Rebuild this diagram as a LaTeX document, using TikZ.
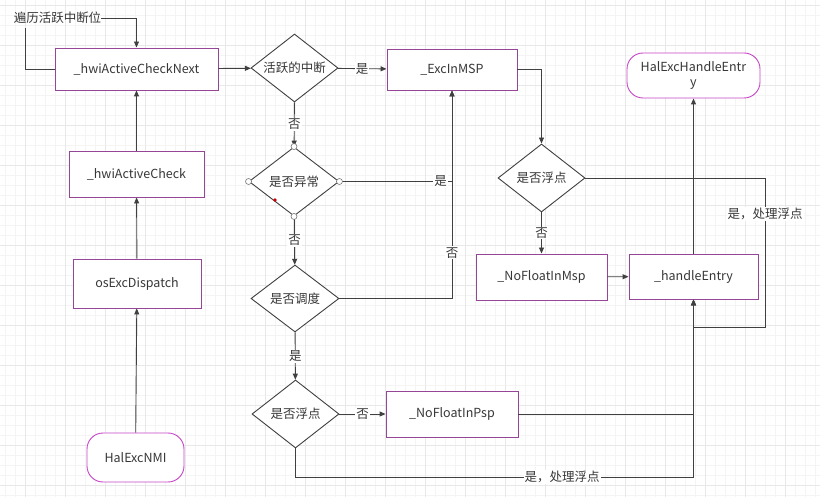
\documentclass[tikz,border=0pt]{standalone}
\usepackage{fontspec}
\setmainfont{Noto Sans CJK SC}
\usetikzlibrary{shapes.geometric,arrows.meta}

\definecolor{boxline}{RGB}{150,70,150}
\definecolor{termline}{RGB}{200,70,200}
\definecolor{wire}{RGB}{64,64,64}
\definecolor{ink}{RGB}{55,55,55}
\definecolor{gridminor}{RGB}{244,244,244}
\definecolor{gridmajor}{RGB}{232,232,232}

\tikzset{
  base/.style={font=\fontsize{12.5}{15}\selectfont, text=ink, inner sep=0pt, align=center},
  proc/.style={base, rectangle, draw=boxline, line width=0.9pt, fill=white},
  term/.style={base, rectangle, rounded corners=16pt, draw=termline, line width=0.9pt, fill=white},
  decide/.style={base, diamond, draw=wire, line width=0.9pt, fill=white, aspect=1.3},
  arr/.style={draw=wire, line width=0.9pt, -{Triangle[length=6pt,width=5pt]}},
  wireonly/.style={draw=wire, line width=0.9pt},
  lbl/.style={font=\fontsize{12.5}{15}\selectfont, text=ink, fill=white, inner sep=1pt},
  pin/.style={circle, draw=wire!70, fill=white, line width=0.6pt, minimum size=6pt, inner sep=0pt},
}

\begin{document}
\begin{tikzpicture}[x=1pt,y=-1pt]
  % canvas and background grid
  \useasboundingbox (0,0) rectangle (820,497);
  \fill[white] (0,0) rectangle (820,497);
  \foreach \g in {5,15,...,815} \draw[gridminor, line width=0.5pt] (\g,0) -- (\g,497);
  \foreach \g in {5,15,...,495} \draw[gridminor, line width=0.5pt] (0,\g) -- (820,\g);
  \foreach \g in {25,65,...,815} \draw[gridmajor, line width=0.5pt] (\g,0) -- (\g,497);
  \foreach \g in {5,45,...,495} \draw[gridmajor, line width=0.5pt] (0,\g) -- (820,\g);

  % left column
  \node[proc, minimum width=163pt, minimum height=42pt] (next)  at (136.5,69)  {\_hwiActiveCheckNext};
  \node[proc, minimum width=135pt, minimum height=46pt] (check) at (136.5,174) {\_hwiActiveCheck};
  \node[proc, minimum width=128pt, minimum height=49pt] (disp)  at (137,283.5) {osExcDispatch};
  \node[term, minimum width=97pt,  minimum height=49pt] (nmi)   at (135.5,457.5) {HalExcNMI};
  \node[base] (loop) at (57.5,18) {遍历活跃中断位};
  \coordinate (loopfoot) at (25,28);

  % decision column
  \node[decide, minimum width=87pt, minimum height=68pt] (d1) at (294.5,68)  {活跃的中断};
  \node[decide, minimum width=90pt, minimum height=69pt] (d2) at (294,181.5) {是否异常};
  \node[decide, minimum width=88pt, minimum height=67pt] (d3) at (295,298.5) {是否调度};
  \node[decide, minimum width=87pt, minimum height=68pt] (d4) at (295.5,414) {是否浮点};

  % middle column
  \node[proc, minimum width=130pt, minimum height=41pt] (exc) at (452,69.5) {\_ExcInMSP};
  \node[proc, minimum width=132pt, minimum height=46pt] (psp) at (452,414)  {\_NoFloatInPsp};

  % right part
  \node[decide, minimum width=87pt, minimum height=68pt] (d5) at (541.5,178) {是否浮点};
  \node[proc, minimum width=131pt, minimum height=46pt] (msp)    at (541.5,277) {\_NoFloatInMsp};
  \node[proc, minimum width=129pt, minimum height=45pt] (handle) at (693.5,276.5) {\_handleEntry};
  \node[term, minimum width=133pt, minimum height=45pt] (hal)    at (693.5,75.5) {HalExcHandleEntr\\y};
  \coordinate (bottomturn) at (295.5,477);
  \coordinate (rightturn)  at (765,327);

  % upward chain on the left
  \draw[arr] (nmi) -- (disp);
  \draw[arr] (disp) -- (check);
  \draw[arr] (check) -- (next);
  \draw[wireonly] (next.west) -| (loopfoot);
  \draw[arr] (loop.east) -| (next.north);

  % decisions
  \draw[arr] (next) -- (d1);
  \draw[arr] (d1) -- node[lbl]{是} (exc);
  \draw[arr] (d1) -- node[lbl]{否} (d2);
  \draw[arr] (d2.east) -- node[lbl, pos=0.9]{是} (d2.east -| exc.south) -- (exc.south);
  \draw[arr] (d2) -- node[lbl]{否} (d3);
  \draw[arr] (d3.east) -| node[lbl, pos=0.61]{否} (exc.south);
  \draw[arr] (d3) -- node[lbl]{是} (d4);
  \draw[arr] (d4) -- node[lbl]{否} (psp);
  \draw[arr] (psp.east) -| (handle.south);
  \draw[arr] (d4.south) -- (bottomturn) -| node[lbl, pos=0.335]{是，处理浮点} (handle.south);

  % MSP branch
  \draw[arr] (exc.east) -| (d5.north);
  \draw[arr] (d5) -- node[lbl]{否} (msp);
  \draw[arr] (msp) -- (handle);
  \draw[arr] (d5.east) -| node[lbl, pos=0.62]{是，处理浮点} (rightturn) -| (handle.south);
  \draw[arr] (handle) -- (hal);

  % connection handles shown on the selected diamond
  \foreach \a in {north,south,east,west} \node[pin] at (d2.\a) {};
  \fill[red!80!black] (275,200) circle (1.8pt);
\end{tikzpicture}
\end{document}
